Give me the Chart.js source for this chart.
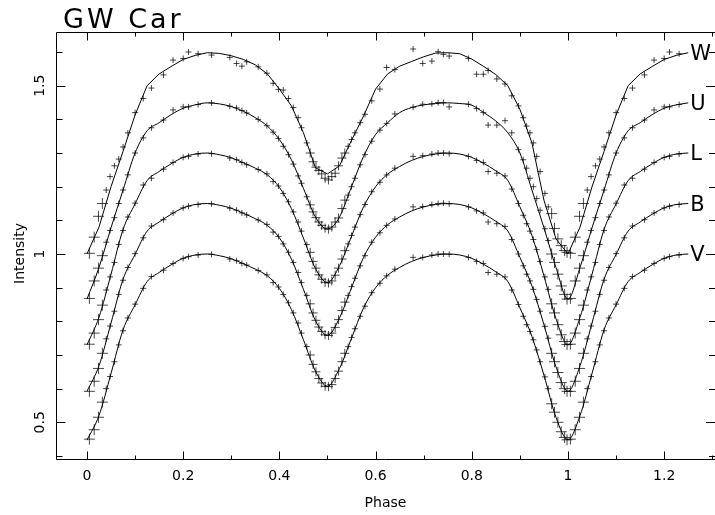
<!DOCTYPE html>
<html>
<head>
<meta charset="utf-8">
<title>GW Car</title>
<script src="https://cdn.jsdelivr.net/npm/chart.js@4.4.1/dist/chart.umd.min.js"></script>
<style>
    html, body { margin: 0; padding: 0; background: #fff; }
    canvas { display: block; }
</style>
</head>
<body>
<canvas id="grafico" width="715" height="515"></canvas>
<script>
// Fases das observações (as mesmas para as cinco bandas de Walraven)
const phases = [
    0.005, 0.015, 0.024, 0.032, 0.040, 0.048, 0.057, 0.066, 0.075, 0.085,
    0.100, 0.117, 0.134, 0.159, 0.179, 0.200, 0.211, 0.231, 0.259, 0.297,
    0.311, 0.322, 0.332, 0.356, 0.374, 0.387, 0.398, 0.408, 0.419, 0.429,
    0.439, 0.446, 0.457, 0.464, 0.470, 0.476, 0.482, 0.488, 0.495, 0.502,
    0.509, 0.516, 0.523, 0.530, 0.536, 0.543, 0.550, 0.557, 0.568, 0.578,
    0.592, 0.609, 0.623, 0.640, 0.678, 0.698, 0.717, 0.730, 0.741, 0.753,
    0.793, 0.810, 0.824, 0.834, 0.852, 0.869, 0.883, 0.897, 0.907, 0.914,
    0.921, 0.928, 0.935, 0.942, 0.952, 0.959, 0.966, 0.972, 0.979, 0.986,
    0.993, 0.998
];

// Intensidades observadas por banda
const valuesW = [
    1.002, 1.050, 1.112, 1.150, 1.190, 1.230, 1.262, 1.282, 1.318, 1.360,
    1.420, 1.462, 1.493, 1.532, 1.576, 1.581, 1.600, 1.595, 1.591, 1.584,
    1.566, 1.558, 1.571, 1.556, 1.537, 1.507, 1.489, 1.487, 1.462, 1.435,
    1.405, 1.375, 1.330, 1.300, 1.274, 1.258, 1.248, 1.238, 1.225, 1.220,
    1.230, 1.240, 1.262, 1.285, 1.300, 1.320, 1.340, 1.360, 1.390, 1.415,
    1.455, 1.490, 1.554, 1.548, 1.609, 1.566, 1.573, 1.601, 1.593, 1.588,
    1.581, 1.534, 1.534, 1.545, 1.520, 1.505, 1.470, 1.440, 1.405, 1.380,
    1.360, 1.330, 1.290, 1.245, 1.180, 1.140, 1.120, 1.076, 1.045, 1.025,
    1.010, 1.005
];
const valuesU = [
    0.868, 0.920, 0.958, 0.995, 1.035, 1.070, 1.108, 1.150, 1.190, 1.235,
    1.300, 1.345, 1.375, 1.398, 1.428, 1.437, 1.437, 1.444, 1.449, 1.439,
    1.434, 1.426, 1.419, 1.400, 1.381, 1.362, 1.343, 1.320, 1.295, 1.267,
    1.232, 1.210, 1.170, 1.146, 1.125, 1.108, 1.095, 1.085, 1.077, 1.074,
    1.080, 1.095, 1.107, 1.135, 1.160, 1.175, 1.200, 1.225, 1.265, 1.295,
    1.335, 1.368, 1.388, 1.416, 1.436, 1.445, 1.446, 1.450, 1.450, 1.437,
    1.445, 1.432, 1.420, 1.383, 1.383, 1.396, 1.360, 1.310, 1.280, 1.255,
    1.225, 1.200, 1.165, 1.130, 1.075, 1.040, 1.000, 0.975, 0.940, 0.905,
    0.880, 0.866
];
const valuesL = [
    0.732, 0.765, 0.805, 0.848, 0.893, 0.932, 0.975, 1.028, 1.070, 1.110,
    1.151, 1.205, 1.225, 1.252, 1.272, 1.287, 1.290, 1.297, 1.298, 1.285,
    1.280, 1.272, 1.265, 1.251, 1.238, 1.215, 1.202, 1.180, 1.155, 1.125,
    1.095, 1.068, 1.028, 1.005, 0.978, 0.958, 0.938, 0.925, 0.916, 0.914,
    0.920, 0.937, 0.958, 0.985, 1.010, 1.030, 1.055, 1.080, 1.117, 1.147,
    1.185, 1.213, 1.235, 1.255, 1.290, 1.292, 1.297, 1.300, 1.300, 1.298,
    1.290, 1.278, 1.272, 1.245, 1.240, 1.232, 1.193, 1.150, 1.115, 1.090,
    1.068, 1.043, 1.013, 0.978, 0.932, 0.895, 0.852, 0.825, 0.790, 0.760,
    0.740, 0.731
];
const valuesB = [
    0.592, 0.622, 0.660, 0.705, 0.748, 0.786, 0.830, 0.880, 0.922, 0.960,
    1.001, 1.048, 1.083, 1.102, 1.122, 1.137, 1.142, 1.147, 1.149, 1.136,
    1.130, 1.122, 1.116, 1.101, 1.088, 1.065, 1.052, 1.030, 1.005, 0.975,
    0.945, 0.915, 0.877, 0.852, 0.825, 0.803, 0.783, 0.770, 0.760, 0.758,
    0.765, 0.782, 0.805, 0.832, 0.857, 0.877, 0.903, 0.928, 0.965, 0.995,
    1.035, 1.063, 1.085, 1.104, 1.140, 1.141, 1.147, 1.150, 1.151, 1.149,
    1.140, 1.128, 1.122, 1.095, 1.090, 1.082, 1.043, 1.000, 0.965, 0.940,
    0.920, 0.895, 0.865, 0.830, 0.785, 0.750, 0.705, 0.680, 0.648, 0.618,
    0.600, 0.592
];
const valuesV = [
    0.450, 0.478, 0.515, 0.560, 0.600, 0.636, 0.680, 0.730, 0.772, 0.810,
    0.851, 0.898, 0.933, 0.952, 0.972, 0.987, 0.992, 0.997, 0.999, 0.985,
    0.980, 0.972, 0.967, 0.951, 0.938, 0.915, 0.902, 0.880, 0.855, 0.825,
    0.795, 0.765, 0.725, 0.700, 0.672, 0.650, 0.630, 0.617, 0.607, 0.606,
    0.612, 0.630, 0.652, 0.680, 0.705, 0.725, 0.752, 0.778, 0.815, 0.845,
    0.885, 0.913, 0.935, 0.955, 0.990, 0.990, 0.997, 1.000, 1.000, 0.999,
    0.990, 0.978, 0.972, 0.945, 0.940, 0.932, 0.893, 0.850, 0.815, 0.790,
    0.770, 0.745, 0.715, 0.680, 0.635, 0.600, 0.555, 0.530, 0.500, 0.472,
    0.455, 0.448
];

// Curvas do modelo
const modelPhases = [
    0, 0.025, 0.05, 0.075, 0.1, 0.125, 0.15, 0.175, 0.2, 0.225,
    0.25, 0.275, 0.3, 0.325, 0.35, 0.375, 0.4, 0.425, 0.45, 0.475,
    0.5, 0.525, 0.55, 0.575, 0.6, 0.625, 0.65, 0.675, 0.7, 0.725,
    0.75, 0.775, 0.8, 0.825, 0.85, 0.875, 0.9, 0.925, 0.95, 0.975, 1
];
const modelW = [
    1.000, 1.080, 1.200, 1.305, 1.413, 1.500, 1.535, 1.557, 1.578, 1.590,
    1.598, 1.596, 1.589, 1.578, 1.562, 1.535, 1.490, 1.440, 1.360, 1.256,
    1.238, 1.262, 1.338, 1.410, 1.490, 1.535, 1.558, 1.572, 1.586, 1.597,
    1.598, 1.595, 1.579, 1.557, 1.533, 1.500, 1.430, 1.330, 1.160, 1.045, 1.000
];
const modelU = [
    0.866, 0.960, 1.078, 1.190, 1.300, 1.366, 1.390, 1.414, 1.433, 1.443,
    1.449, 1.446, 1.438, 1.424, 1.405, 1.380, 1.340, 1.280, 1.195, 1.110,
    1.074, 1.110, 1.200, 1.290, 1.355, 1.390, 1.420, 1.435, 1.443, 1.447,
    1.449, 1.447, 1.442, 1.420, 1.395, 1.360, 1.300, 1.190, 1.078, 0.960, 0.866
];
const modelL = [
    0.730, 0.812, 0.940, 1.073, 1.149, 1.218, 1.245, 1.268, 1.287, 1.297,
    1.300, 1.295, 1.286, 1.271, 1.255, 1.235, 1.198, 1.135, 1.047, 0.957,
    0.915, 0.965, 1.053, 1.140, 1.200, 1.237, 1.260, 1.278, 1.290, 1.297,
    1.300, 1.297, 1.287, 1.269, 1.247, 1.218, 1.140, 1.055, 0.935, 0.808, 0.730
];
const modelB = [
    0.592, 0.668, 0.795, 0.925, 0.999, 1.068, 1.095, 1.118, 1.137, 1.147,
    1.150, 1.145, 1.136, 1.121, 1.105, 1.085, 1.048, 0.985, 0.895, 0.802,
    0.758, 0.810, 0.900, 0.990, 1.050, 1.087, 1.110, 1.128, 1.140, 1.147,
    1.150, 1.147, 1.137, 1.119, 1.097, 1.068, 0.990, 0.905, 0.790, 0.665, 0.592
];
const modelV = [
    0.447, 0.520, 0.645, 0.775, 0.849, 0.918, 0.945, 0.968, 0.987, 0.997,
    1.000, 0.995, 0.986, 0.971, 0.955, 0.935, 0.898, 0.835, 0.745, 0.652,
    0.607, 0.660, 0.750, 0.840, 0.900, 0.937, 0.960, 0.978, 0.990, 0.997,
    1.000, 0.997, 0.987, 0.969, 0.947, 0.918, 0.840, 0.755, 0.640, 0.515, 0.448
];

const bands = ['W', 'U', 'L', 'B', 'V'];
const bandValues = [valuesW, valuesU, valuesL, valuesB, valuesV];
const bandModels = [modelW, modelU, modelL, modelB, modelV];

// Marcas dos eixos
const xTickValues = [0, 0.1, 0.2, 0.3, 0.4, 0.5, 0.6, 0.7, 0.8, 0.9, 1, 1.1, 1.2, 1.3];
const xTickLabels = ['0', '', '0.2', '', '0.4', '', '0.6', '', '0.8', '', '1', '', '1.2', ''];
const yTickValues = [0.4, 0.5, 0.6, 0.7, 0.8, 0.9, 1, 1.1, 1.2, 1.3, 1.4, 1.5, 1.6];
const yTickLabels = ['', '0.5', '', '', '', '', '1', '', '', '', '', '1.5', ''];

const X_MIN = -0.0644, X_MAX = 1.3056;
const Y_MIN = 0.391, Y_MAX = 1.6595;
const FONTE = '"DejaVu Sans", sans-serif';

// Repete o trecho 0..0.25 depois da fase 1 (curva dobrada em fase)
function dobrarFase(xs, ys) {
    const pts = xs.map((p, i) => ({ x: p, y: ys[i] }));
    xs.forEach((p, i) => {
        if (p > 0 && p <= 0.25) pts.push({ x: p + 1, y: ys[i] });
    });
    return pts.sort((a, b) => a.x - b.x);
}

// Tamanho da cruz: maior perto dos mínimos
function raioMarca(ctx) {
    const p = ctx.raw ? ctx.raw.x : 0;
    const dPrim = Math.min(Math.abs(p), Math.abs(p - 1));
    if (dPrim < 0.04) return 5.5;
    if (Math.abs(p - 0.5) < 0.04) return 4.5;
    return 3;
}

const datasets = [];
bands.forEach((band, i) => {
    datasets.push({
        label: band + ' obs',
        data: dobrarFase(phases, bandValues[i]),
        showLine: false,
        pointStyle: 'cross',
        pointRadius: raioMarca,
        pointBorderWidth: 1,
        pointBorderColor: 'rgba(0,0,0,0.72)',
        pointBackgroundColor: 'rgba(0,0,0,0)'
    });
    // W tem quebras visíveis no original; as outras curvas são suaves
    datasets.push({
        label: band,
        data: dobrarFase(modelPhases, bandModels[i]),
        showLine: true,
        borderColor: '#000',
        borderWidth: 1,
        pointRadius: 0,
        cubicInterpolationMode: band === 'W' ? 'default' : 'monotone',
        tension: 0
    });
});

// Eixos, marcas, textos e rótulos das bandas
const eixosPlugin = {
    id: 'eixos',
    afterDraw(chart) {
        const ctx = chart.ctx;
        const area = chart.chartArea;
        const sx = chart.scales.x;
        const sy = chart.scales.y;
        const L = area.left + 0.5, T = area.top + 0.5, B = area.bottom + 0.5, R = area.right;

        ctx.save();
        ctx.strokeStyle = '#000';
        ctx.lineWidth = 1;
        ctx.beginPath();
        ctx.moveTo(R, T);
        ctx.lineTo(L, T);
        ctx.lineTo(L, B);
        ctx.lineTo(R, B);
        xTickValues.forEach((v, i) => {
            const px = Math.round(sx.getPixelForValue(v)) + 0.5;
            const len = xTickLabels[i] ? 8 : 4;
            ctx.moveTo(px, B); ctx.lineTo(px, B - len);
            ctx.moveTo(px, T); ctx.lineTo(px, T + len);
        });
        yTickValues.forEach((v, i) => {
            const py = Math.round(sy.getPixelForValue(v)) + 0.5;
            const len = yTickLabels[i] ? 9 : 6;
            ctx.moveTo(L, py); ctx.lineTo(L + len, py);
            ctx.moveTo(R, py); ctx.lineTo(R - len, py);
        });
        ctx.stroke();

        ctx.fillStyle = '#000';
        ctx.font = '14px ' + FONTE;
        ctx.textAlign = 'center';
        ctx.textBaseline = 'middle';
        xTickValues.forEach((v, i) => {
            if (xTickLabels[i]) ctx.fillText(xTickLabels[i], sx.getPixelForValue(v), area.bottom + 17);
        });
        ctx.fillText('Phase', (area.left + area.right) / 2, area.bottom + 44);

        yTickValues.forEach((v, i) => {
            if (!yTickLabels[i]) return;
            ctx.save();
            ctx.translate(area.left - 16, sy.getPixelForValue(v));
            ctx.rotate(-Math.PI / 2);
            ctx.fillText(yTickLabels[i], 0, 0);
            ctx.restore();
        });
        ctx.save();
        ctx.translate(20, (area.top + area.bottom) / 2 + 8);
        ctx.rotate(-Math.PI / 2);
        ctx.fillText('Intensity', 0, 0);
        ctx.restore();

        // Título
        ctx.font = '27px ' + FONTE;
        ctx.textAlign = 'left';
        ctx.textBaseline = 'alphabetic';
        ctx.letterSpacing = '3px';
        ctx.fillText('GW Car', 63, 28);
        ctx.letterSpacing = '0px';

        // Nome de cada banda no fim da curva do modelo
        ctx.font = '21px ' + FONTE;
        ctx.textBaseline = 'middle';
        chart.data.datasets.forEach(ds => {
            if (!ds.showLine) return;
            const ultimo = ds.data[ds.data.length - 1];
            ctx.fillText(ds.label, sx.getPixelForValue(ultimo.x) + 2, sy.getPixelForValue(ultimo.y) + 2);
        });
        ctx.restore();
    }
};

new Chart(document.getElementById('grafico').getContext('2d'), {
    type: 'scatter',
    data: { datasets },
    options: {
        responsive: false,
        animation: false,
        events: [],
        layout: { autoPadding: false, padding: { left: 56, right: 0, top: 32, bottom: 56 } },
        plugins: {
            legend: { display: false },
            tooltip: { enabled: false }
        },
        scales: {
            x: { type: 'linear', min: X_MIN, max: X_MAX, display: false },
            y: { type: 'linear', min: Y_MIN, max: Y_MAX, display: false }
        }
    },
    plugins: [eixosPlugin]
});
</script>
</body>
</html>
